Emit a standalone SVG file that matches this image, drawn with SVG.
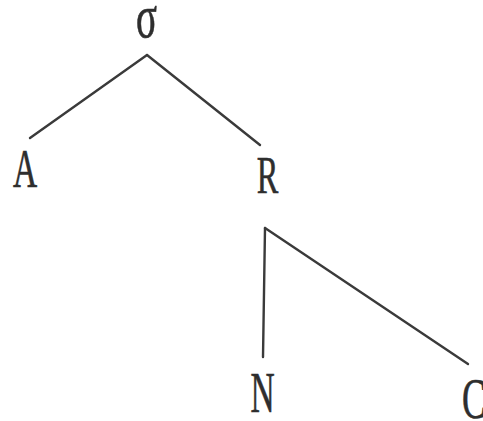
<svg xmlns="http://www.w3.org/2000/svg" width="483" height="421" viewBox="0 0 483 421">
<style>
.lbl { font-family: "Liberation Serif", "Times New Roman", serif; font-size: 54px; fill: #2e2e2e; stroke: #2e2e2e; stroke-width: 0.6; text-anchor: middle; }
.edge { stroke: #3a3a3a; stroke-width: 2.4; fill: none; stroke-linecap: round; }
</style>
<rect width="483" height="421" fill="#ffffff"/>
<g id="connectors">
<line class="edge" x1="147" y1="55" x2="30" y2="138"/>
<line class="edge" x1="147" y1="55" x2="260" y2="145"/>
<line class="edge" x1="265" y1="228" x2="263" y2="357"/>
<line class="edge" x1="265" y1="228" x2="468" y2="364"/>
</g>
<g id="node-sigma"><text class="lbl" transform="translate(146.5,37) scale(0.72,1.15)">σ</text></g>
<g id="node-A"><text class="lbl" transform="translate(25,187) scale(0.62,1.03)">A</text></g>
<g id="node-R"><text class="lbl" transform="translate(267.5,193) scale(0.6,0.98)">R</text></g>
<g id="node-N"><text class="lbl" transform="translate(262.5,412) scale(0.62,1.05)">N</text></g>
<g id="node-C"><text class="lbl" style="text-anchor:start" transform="translate(462,418) scale(0.66,1.05)">C</text></g>
</svg>
